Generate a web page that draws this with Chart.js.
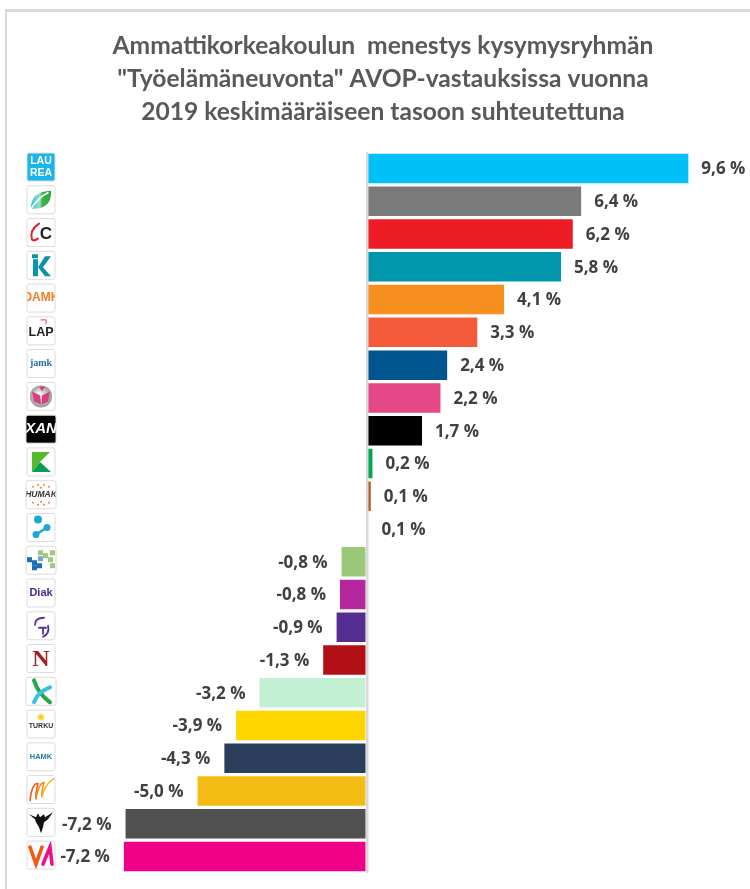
<!DOCTYPE html>
<html>
<head>
<meta charset="utf-8">
<style>
html,body{margin:0;padding:0;background:#fff;width:750px;height:889px;overflow:hidden}
#frame{position:absolute;left:5px;top:9px;width:745px;height:880px;border-top:3px solid #d9d9d9;border-left:2px solid #d9d9d9;box-sizing:border-box}
#wrap{position:absolute;left:0;top:0;width:750px;height:889px}
</style>
<script src="https://cdn.jsdelivr.net/npm/chart.js@4"></script>
</head>
<body>
<div id="frame"></div>
<div id="wrap"><canvas id="c" width="750" height="889"></canvas></div>
<script>
// Rows are identified in the picture only by their logos.
const categories = ['LAUREA','leaf','CC','K-teal','OAMK','LAP','jamk','ball','XAMK','K-green','HUMAK','dots','blocks','Diak','arcs','N','X','TURKU','HAMK','flame','bird','VA'];
const values = [9.6,6.4,6.15,5.8,4.1,3.3,2.4,2.2,1.65,0.17,0.12,0.05,-0.75,-0.8,-0.9,-1.3,-3.2,-3.9,-4.25,-5.05,-7.2,-7.25];
const valueLabels = ['9,6 %','6,4 %','6,2 %','5,8 %','4,1 %','3,3 %','2,4 %','2,2 %','1,7 %','0,2 %','0,1 %','0,1 %','-0,8 %','-0,8 %','-0,9 %','-1,3 %','-3,2 %','-3,9 %','-4,3 %','-5,0 %','-7,2 %','-7,2 %'];
const barColors = ['#00c0f8','#7a7a7a','#ee1c25','#0097ad','#f7901e','#f35b3a','#00558f','#e64787','#000000','#00a651','#b85c1e','#ffffff','#9bc878','#b5289d','#552d91','#b20f16','#c3efd2','#ffd500','#2b3f5c','#f4bb14','#505050','#ef0086'];
const titleLines = ['Ammattikorkeakoulun  menestys kysymysryhmän','"Työelämäneuvonta" AVOP-vastauksissa vuonna','2019 keskimääräiseen tasoon suhteutettuna'];

function txt(c,s,x,y,font,col){c.font=font;c.fillStyle=col;c.textAlign='center';c.textBaseline='middle';c.fillText(s,x,y);}
function poly(c,col,pts){c.fillStyle=col;c.beginPath();pts.forEach((p,i)=>i?c.lineTo(p[0],p[1]):c.moveTo(p[0],p[1]));c.closePath();c.fill();}
function stroke(c,col,w,fn){c.strokeStyle=col;c.lineWidth=w;c.lineCap='round';c.beginPath();fn();c.stroke();}
const sans='"Liberation Sans",sans-serif';
const logos={
 LAUREA(c){c.fillStyle='#1ab5ec';c.fillRect(-14,-14,28,28);txt(c,'LAU',0,-6,'bold 10.5px '+sans,'#fff');txt(c,'REA',0,6,'bold 10.5px '+sans,'#fff');},
 leaf(c){const g=c.createLinearGradient(-10,0,10,0);g.addColorStop(0,'#35c3dc');g.addColorStop(.45,'#9be0c0');g.addColorStop(.55,'#3fb54a');g.addColorStop(1,'#2fa83f');c.fillStyle=g;c.beginPath();c.moveTo(-10,9);c.quadraticCurveTo(-11,-8,10,-9);c.quadraticCurveTo(11,10,-10,9);c.fill();stroke(c,'#fff',1.5,()=>{c.moveTo(-10,9);c.quadraticCurveTo(-2,-3,7,-7);});},
 CC(c){stroke(c,'#e8202a',2,()=>{c.moveTo(-2,-9);c.quadraticCurveTo(-12,-2,-9,7);c.quadraticCurveTo(-6,9,-3,6);});txt(c,'C',5,2,'bold 17px '+sans,'#222');},
 'K-teal'(c){poly(c,'#0a93aa',[[-8,-6],[-3,-6],[-3,11],[-8,11]]);poly(c,'#0a93aa',[[-3,2],[4,-9],[10,-9],[2,2],[10,11],[4,11]]);poly(c,'#0a93aa',[[-9,-11],[-3,-11],[-3,-7],[-9,-7]]);},
 OAMK(c){txt(c,'OAMK',0,0,'bold 12px '+sans,'#f47b20');},
 LAP(c){stroke(c,'#e8403a',1,()=>{c.moveTo(0,-11);c.lineTo(5,-11);c.lineTo(5,-7);});txt(c,'LAP',0,2,'bold 12.5px '+sans,'#222');},
 jamk(c){txt(c,'jamk',0,0,'bold 10px "Liberation Serif",serif','#2f6da8');},
 ball(c){const g=c.createRadialGradient(-2,-2,2,0,0,11);g.addColorStop(0,'#eee');g.addColorStop(1,'#999');c.fillStyle=g;c.beginPath();c.arc(0,0,11,0,7);c.fill();poly(c,'#dd3d7e',[[-9,-5],[-1,-1],[0,8],[-7,5]]);poly(c,'#dd3d7e',[[9,-5],[1,-1],[1,8],[7,5]]);poly(c,'#dd3d7e',[[-2,-10],[4,-10],[1,-5]]);},
 XAMK(c){c.fillStyle='#000';c.fillRect(-15,-14,30,28);txt(c,'XAN',0,0,'italic bold 15px '+sans,'#fff');},
 'K-green'(c){poly(c,'#56b92f',[[-9,-10],[9,-10],[-1,0],[-9,0]]);poly(c,'#56b92f',[[-9,0],[-1,0],[-9,10]]);poly(c,'#0a9e50',[[-9,10],[-1,0],[10,10]]);},
 HUMAK(c){c.fillStyle='#f08030';[[-8,-8],[-3,-10],[3,-10],[8,-8],[-8,8],[-3,10],[3,10],[8,8],[0,-7],[0,7]].forEach(p=>{c.beginPath();c.arc(p[0],p[1],1,0,7);c.fill();});txt(c,'HUMAK',0,0,'italic bold 8.5px '+sans,'#333');},
 dots(c){c.fillStyle='#1aa8d6';[[-3,-8,4],[6,0,3.5],[-5,7,3.5]].forEach(p=>{c.beginPath();c.arc(p[0],p[1],p[2],0,7);c.fill();});stroke(c,'#1aa8d6',2.5,()=>{c.moveTo(-5,7);c.lineTo(6,0);});},
 blocks(c){[[-14,-3,'#1a6fb5'],[-9,0,'#1a6fb5'],[-4,3,'#1a6fb5'],[-3,-4,'#6fa8dc'],[-9,5,'#1a6fb5'],[-3,-10,'#9ccb7a'],[2,-7,'#9ccb7a'],[7,-3,'#9ccb7a'],[9,-10,'#9ccb7a'],[9,3,'#9ccb7a']].forEach(p=>{c.fillStyle=p[2];c.fillRect(p[0],p[1],5,5);});},
 Diak(c){txt(c,'Diak',0,0,'bold 11px '+sans,'#4b2a90');},
 arcs(c){stroke(c,'#5a2d9c',1.8,()=>{c.moveTo(-6,-1);c.quadraticCurveTo(-6,-8,3,-8);});stroke(c,'#5a2d9c',1.8,()=>{c.moveTo(-2,2);c.lineTo(5,2);c.moveTo(2,2);c.lineTo(2,8);c.moveTo(7,0);c.quadraticCurveTo(9,8,2,11);});},
 N(c){txt(c,'N',0,1,'bold 24px "Liberation Serif",serif','#a81c25');},
 X(c){stroke(c,'#22a84a',4,()=>{c.moveTo(-7,-11);c.quadraticCurveTo(-3,2,9,11);});stroke(c,'#3cc0e0',4,()=>{c.moveTo(9,-4);c.quadraticCurveTo(-3,0,-7,11);});},
 TURKU(c){c.strokeStyle='#ffc800';c.lineWidth=1.2;for(let i=0;i<8;i++){const a=i*Math.PI/4;c.beginPath();c.moveTo(0,-7);c.lineTo(3.5*Math.cos(a),-7+3.5*Math.sin(a));c.stroke();}txt(c,'TURKU',0,2,'bold 7px '+sans,'#333');},
 HAMK(c){txt(c,'HAMK',0,0,'bold 7.5px '+sans,'#1f7a9c');},
 flame(c){stroke(c,'#ef5a23',1.6,()=>{c.moveTo(-11,11);c.quadraticCurveTo(-9,-7,-3,-6);c.quadraticCurveTo(-6,6,-5,9);});stroke(c,'#f7901e',1.6,()=>{c.moveTo(-5,9);c.quadraticCurveTo(-2,-7,3,-7);c.quadraticCurveTo(0,4,1,7);});stroke(c,'#f4bb14',1.6,()=>{c.moveTo(1,7);c.quadraticCurveTo(4,-6,13,-11);});},
 bird(c){poly(c,'#111',[[-12,-8],[-5,-5],[-3,-9],[-1,-5],[3,-8],[4,-5],[12,-10],[7,-3],[3,0],[2,5],[0,11],[-2,5],[-5,0],[-6,-3]]);},
 VA(c){stroke(c,'#f05a14',3.6,()=>{c.moveTo(-11,-8);c.lineTo(-5,9);c.lineTo(1,-8);});stroke(c,'#ec0f8c',3.6,()=>{c.moveTo(2,9);c.lineTo(9,-8);c.lineTo(11,9);});}
};
const wideLogos=['XAMK','blocks','HUMAK','X'];

const logoPlugin={id:'logoTicks',afterDraw(chart){
 const c=chart.ctx,y=chart.scales.y;
 categories.forEach((name,i)=>{
  const cy=y.getPixelForTick(i)-1.5, cx=41;
  const w=wideLogos.includes(name)?15:14;
  c.save();
  c.translate(cx,cy);
  c.beginPath();c.roundRect(-w,-14,2*w,28,2);
  c.fillStyle='#fff';c.fill();
  c.save();c.clip();logos[name](c);c.restore();
  c.strokeStyle='#dcdcdc';c.lineWidth=1;c.beginPath();c.roundRect(-w,-14,2*w,28,2);c.stroke();
  c.restore();
 });
}};
const labelPlugin={id:'valueText',afterDatasetsDraw(chart){
 const c=chart.ctx,meta=chart.getDatasetMeta(0);
 c.save();
 c.font='700 17px "Open Sans",sans-serif';c.fillStyle='#404040';c.textBaseline='middle';
 meta.data.forEach((b,i)=>{
  const neg=values[i]<0;
  c.textAlign=neg?'right':'left';
  c.fillText(valueLabels[i],b.x+(neg?-14:13),b.y+1);
 });
 c.restore();
}};
new Chart(document.getElementById('c'),{
 type:'bar',
 data:{labels:categories,datasets:[{data:values,backgroundColor:barColors,barPercentage:0.9,categoryPercentage:1}]},
 options:{
  indexAxis:'y',responsive:false,animation:false,
  layout:{padding:{left:16,right:0,bottom:16,top:0}},
  plugins:{
   legend:{display:false},tooltip:{enabled:false},
   title:{display:true,text:titleLines,color:'#595959',font:{family:'Lato,sans-serif',size:24.6,weight:'bold',lineHeight:1.33},padding:{top:30,bottom:24}}
  },
  scales:{
   x:{min:-10.47,max:11.44,display:true,border:{display:false},ticks:{display:false,stepSize:1},grid:{z:1,drawTicks:false,lineWidth:2.5,color:ctx=>ctx.tick&&ctx.tick.value===0?'#d9d9d9':'rgba(0,0,0,0)'}},
   y:{display:false}
  }
 },
 plugins:[logoPlugin,labelPlugin]
});
</script>
</body>
</html>
